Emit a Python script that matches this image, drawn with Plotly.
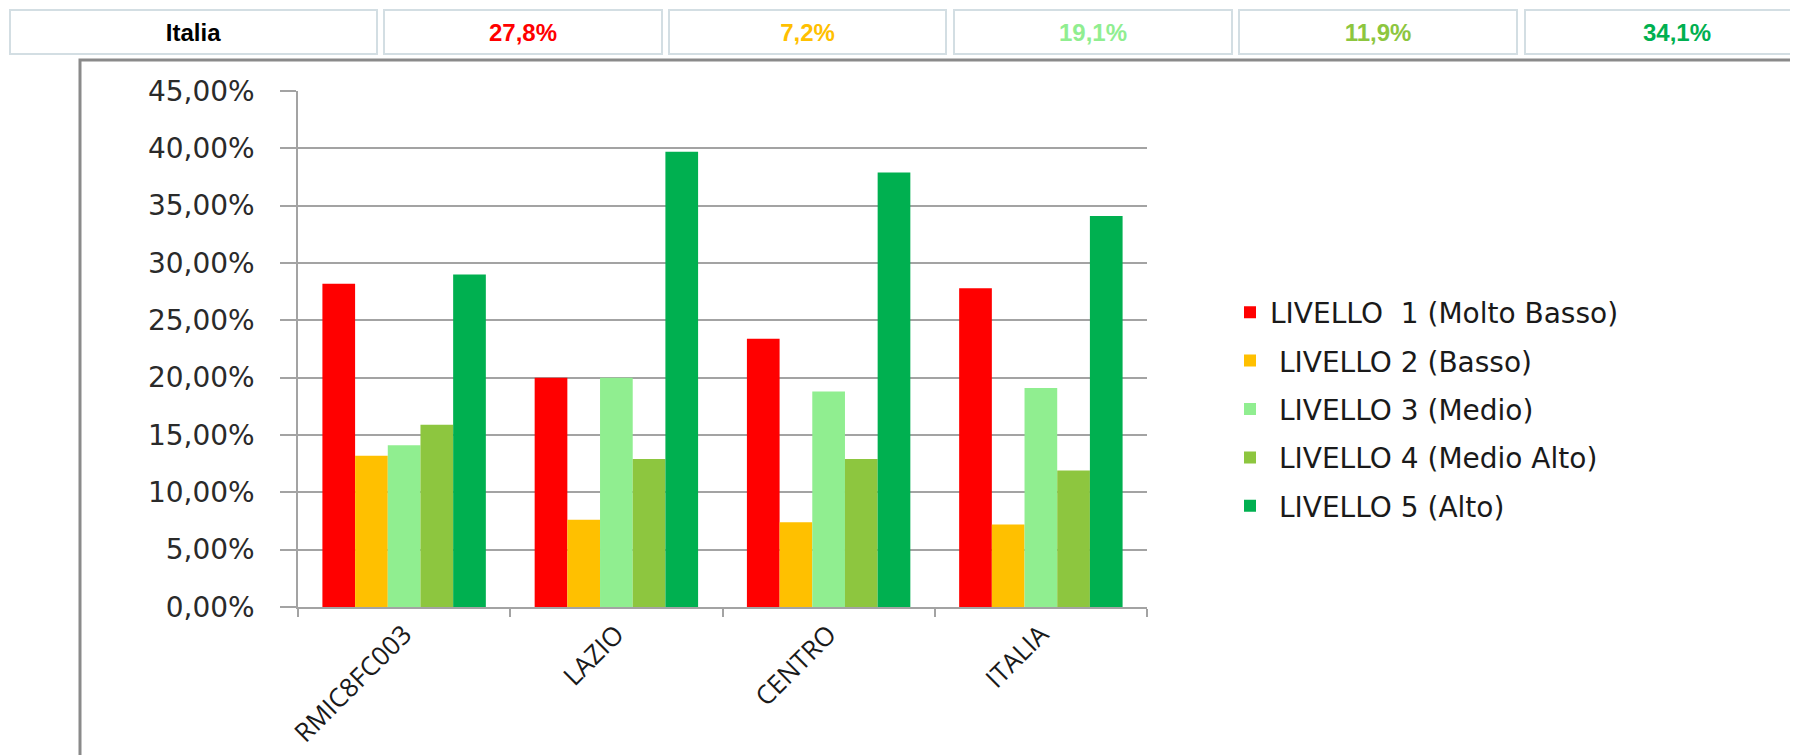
import plotly.graph_objects as go

# ---------------- data ----------------
categories = ["RMIC8FC003", "LAZIO", "CENTRO", "ITALIA"]
series_names = [
    "LIVELLO\u00a0\u00a01 (Molto Basso)",
    "\u00a0LIVELLO 2 (Basso)",
    "\u00a0LIVELLO 3 (Medio)",
    "\u00a0LIVELLO 4 (Medio Alto)",
    "\u00a0LIVELLO 5 (Alto)",
]
livello1 = [28.2, 20.0, 23.4, 27.8]
livello2 = [13.2, 7.6, 7.4, 7.2]
livello3 = [14.1, 20.0, 18.8, 19.1]
livello4 = [15.9, 12.9, 12.9, 11.9]
livello5 = [29.0, 39.7, 37.9, 34.1]
table_label = "Italia"
y_tick_values = [0, 5, 10, 15, 20, 25, 30, 35, 40, 45]

series_values = [livello1, livello2, livello3, livello4, livello5]
y_tick_text = [f"{v:.2f}".replace(".", ",") + "%" for v in y_tick_values]

# ---------------- styles / layout ----------------
colors = ["#FF0000", "#FFC000", "#90EE90", "#8DC63F", "#00B050"]
OFF = 8                      # page body margin
W, H = 1798 - OFF, 755 - OFF
PL, PR, PT, PB = 298, 1147, 91, 607   # plot area box in screen pixels


def px_x(px):
    return (px - PL) / (PR - PL)


def px_y(py):
    return (PB - py) / (PB - PT)


fig = go.Figure()
for i, (name, vals) in enumerate(zip(series_names, series_values)):
    fig.add_trace(go.Bar(
        x=categories, y=vals, name=name,
        marker=dict(color=colors[i], line=dict(width=0)),
        legendgroup=f"g{i}",
    ))

grid_col = "#a3a3a3"
fig.update_layout(
    width=W, height=H, autosize=False,
    margin=dict(l=PL - OFF, r=W - (PR - OFF), t=PT - OFF, b=H - (PB - OFF), pad=0, autoexpand=False),
    paper_bgcolor="white", plot_bgcolor="white",
    barmode="group", bargap=0.23, bargroupgap=0,
    showlegend=True,
    legend=dict(
        x=px_x(1230), xanchor="left", y=px_y(409), yanchor="middle",
        font=dict(family="DejaVu Sans", size=28, color="#1a1a1a"),
        tracegroupgap=9, traceorder="grouped", bgcolor="rgba(0,0,0,0)",
    ),
    xaxis=dict(
        type="category", showgrid=False, showline=True, linecolor=grid_col, linewidth=1.5,
        ticks="outside", tickson="boundaries", ticklen=8, tickcolor=grid_col, tickwidth=1.5,
        tickangle=-45, automargin=False,
        tickfont=dict(family="Open Sans", size=26, color="#1a1a1a"),
    ),
    yaxis=dict(
        range=[0, 45], tickvals=y_tick_values, ticktext=y_tick_text,
        showgrid=True, gridcolor=grid_col, gridwidth=1.5,
        showline=True, linecolor=grid_col, linewidth=1.5,
        ticks="outside", ticklen=16, tickcolor=grid_col, tickwidth=1.5,
        ticklabelstandoff=20, automargin=False,
        tickfont=dict(family="DejaVu Sans", size=28, color="#2a2a2a"),
        zeroline=False,
    ),
)

# outer chart frame
fig.add_shape(type="rect", xref="paper", yref="paper",
              x0=px_x(80), x1=px_x(1796), y0=px_y(790), y1=px_y(60),
              line=dict(color="#8a8a8a", width=3), fillcolor="rgba(0,0,0,0)", layer="below")

# summary table row (Italia values)
cell_edges = [(9, 378), (383, 663), (668, 947), (953, 1233), (1238, 1518), (1524, 1830)]
cell_texts = [table_label] + [f"{v:.1f}".replace(".", ",") + "%" for v in [s[3] for s in series_values]]
cell_colors = ["#000000"] + colors
for (x0, x1), txt, col in zip(cell_edges, cell_texts, cell_colors):
    fig.add_annotation(
        xref="paper", yref="paper", x=px_x((x0 + x1) / 2), y=px_y(32),
        xanchor="center", yanchor="middle",
        text=f"<b>{txt}</b>", showarrow=False,
        font=dict(family="Liberation Sans", size=24, color=col),
        width=(x1 - x0) - 4, height=42, borderpad=0,
        bordercolor="#d3dee3", borderwidth=2, bgcolor="white",
        align="center", valign="middle",
    )

fig.write_html("out.html")
